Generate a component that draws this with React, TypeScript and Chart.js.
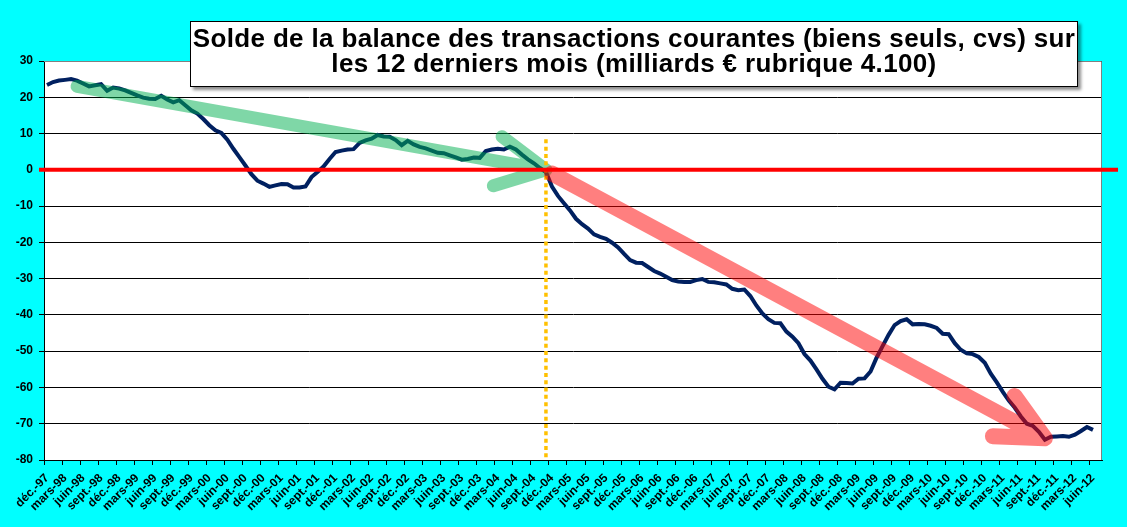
import React, { useEffect, useRef } from 'react';
import { Chart, registerables } from 'chart.js';

Chart.register(...registerables);

// ---- Data ----
const monthNames = ['janv.', 'févr.', 'mars', 'avr.', 'mai', 'juin', 'juil.', 'août', 'sept.', 'oct.', 'nov.', 'déc.'];
// monthly categories from déc.-97 to juil.-12 (last slot empty, like the original axis)
const categories: string[] = [];
for (let k = 0; k < 176; k++) {
  const m = (11 + k) % 12;
  const y = (97 + Math.floor((11 + k) / 12)) % 100;
  categories.push(`${monthNames[m]}-${String(y).padStart(2, '0')}`);
}

const balance = [
  23.4, 24.2, 24.6, 24.8, 25.0, 24.6, 23.8, 23.0, 23.3, 23.6, 21.8, 22.7,
  22.4, 21.9, 21.2, 20.5, 19.9, 19.6, 19.5, 20.4, 19.4, 18.6, 19.2, 17.8,
  16.4, 15.5, 14.0, 12.3, 10.9, 10.2, 8.3, 5.8, 3.5, 1.2, -1.2, -3.0,
  -3.8, -4.7, -4.3, -3.9, -4.0, -4.9, -4.9, -4.6, -2.0, -0.6, 0.9, 3.0,
  4.9, 5.3, 5.6, 5.7, 7.4, 8.1, 8.6, 9.6, 9.2, 9.1, 8.2, 6.8,
  8.0, 7.0, 6.3, 5.9, 5.3, 4.7, 4.6, 4.0, 3.4, 2.8, 3.0, 3.4,
  3.3, 5.2, 5.6, 5.8, 5.6, 6.4, 5.6, 4.2, 2.9, 1.8, 0.5, -0.6,
  -4.6, -7.2, -9.2, -11.2, -13.5, -15.0, -16.2, -17.8, -18.5, -19.0, -20.1, -21.4,
  -23.2, -24.9, -25.6, -25.7, -26.8, -27.9, -28.6, -29.5, -30.4, -30.8, -30.9, -30.9,
  -30.4, -30.1, -30.9, -31.0, -31.3, -31.6, -32.8, -33.2, -33.0, -34.8, -37.4, -39.6,
  -41.2, -42.2, -42.3, -44.6, -46.0, -47.8, -50.8, -52.6, -55.0, -57.6, -59.8, -60.5,
  -58.7, -58.8, -58.9, -57.6, -57.5, -55.6, -51.8, -48.6, -45.5, -42.8, -41.7, -41.2,
  -42.6, -42.5, -42.6, -43.0, -43.6, -45.2, -45.3, -47.8, -49.6, -50.6, -50.8, -51.6,
  -53.2, -56.2, -58.6, -61.2, -63.6, -65.6, -68.0, -70.0, -70.6, -72.2, -74.4, -73.6,
  -73.5, -73.4, -73.6, -73.0, -72.0, -70.9, -71.7,
];

const yMin = -80;
const yMax = 30;
const yStep = 10;

// annotations: [category index, value]
const greenArrowStart = [5, 23.0];
const greenArrowEnd = [83, 0];
const redArrowStart = [84, -1.0];
const redArrowEnd = [166, -74.0];
const zeroLineValue = 0;
const dottedLineIndex = 83;
const dottedLineRange = [8.4, -80];

const titleLines = [
  'Solde de la balance des transactions courantes (biens seuls, cvs) sur',
  'les 12 derniers mois (milliards € rubrique 4.100)',
];

function drawArrow(ctx: CanvasRenderingContext2D, x1: number, y1: number, x2: number, y2: number,
  width: number, color: string, headLen: number, headAngle: number) {
  const ang = Math.atan2(y2 - y1, x2 - x1);
  ctx.beginPath();
  ctx.moveTo(x1, y1);
  ctx.lineTo(x2, y2);
  ctx.moveTo(x2 - headLen * Math.cos(ang - headAngle), y2 - headLen * Math.sin(ang - headAngle));
  ctx.lineTo(x2, y2);
  ctx.lineTo(x2 - headLen * Math.cos(ang + headAngle), y2 - headLen * Math.sin(ang + headAngle));
  ctx.lineWidth = width;
  ctx.strokeStyle = color;
  ctx.lineCap = 'round';
  ctx.lineJoin = 'round';
  ctx.stroke();
}

const overlayPlugin = {
  id: 'overlay',
  beforeDraw(chart: any) {
    const { ctx, chartArea: a } = chart;
    ctx.save();
    ctx.fillStyle = '#ffffff';
    ctx.fillRect(a.left, a.top, a.right - a.left, a.bottom - a.top);
    ctx.restore();
  },
  beforeDatasetsDraw(chart: any) {
    const { ctx, chartArea: a } = chart;
    ctx.save();
    ctx.strokeStyle = '#808080';
    ctx.lineWidth = 1;
    ctx.beginPath();
    ctx.moveTo(a.left, a.top + 0.5);
    ctx.lineTo(a.right - 0.5, a.top + 0.5);
    ctx.lineTo(a.right - 0.5, a.bottom);
    ctx.stroke();
    ctx.restore();
  },
  afterDatasetsDraw(chart: any) {
    const { ctx, chartArea: a } = chart;
    const xs = chart.scales.x;
    const ys = chart.scales.y;
    ctx.save();
    // green arrow
    drawArrow(ctx,
      xs.getPixelForValue(greenArrowStart[0]), ys.getPixelForValue(greenArrowStart[1]),
      xs.getPixelForValue(greenArrowEnd[0]), ys.getPixelForValue(greenArrowEnd[1]),
      13, 'rgba(0,176,80,0.5)', 55, (27 * Math.PI) / 180);
    // dotted vertical
    ctx.beginPath();
    const dx = xs.getPixelForValue(dottedLineIndex);
    ctx.moveTo(dx, ys.getPixelForValue(dottedLineRange[0]));
    ctx.lineTo(dx, ys.getPixelForValue(dottedLineRange[1]));
    ctx.setLineDash([4, 3.3]);
    ctx.lineCap = 'butt';
    ctx.lineWidth = 3.5;
    ctx.strokeStyle = '#FFC000';
    ctx.stroke();
    ctx.setLineDash([]);
    // red zero line
    const zy = ys.getPixelForValue(zeroLineValue);
    ctx.beginPath();
    ctx.moveTo(a.left - 5, zy);
    ctx.lineTo(a.right + 16, zy);
    ctx.lineWidth = 4;
    ctx.strokeStyle = '#FF0000';
    ctx.lineCap = 'butt';
    ctx.stroke();
    // red arrow
    drawArrow(ctx,
      xs.getPixelForValue(redArrowStart[0]), ys.getPixelForValue(redArrowStart[1]),
      xs.getPixelForValue(redArrowEnd[0]), ys.getPixelForValue(redArrowEnd[1]),
      16, 'rgba(255,0,0,0.5)', 52, (26 * Math.PI) / 180);
    ctx.restore();
  },
};

export default function App() {
  const canvasRef = useRef<HTMLCanvasElement | null>(null);

  useEffect(() => {
    const canvas = canvasRef.current;
    if (!canvas) return;
    const font = '"Liberation Sans", Arial, sans-serif';
    const chart = new Chart(canvas, {
      type: 'line',
      data: {
        labels: categories,
        datasets: [
          {
            data: balance,
            borderColor: '#002060',
            borderWidth: 4,
            pointRadius: 0,
            tension: 0,
            fill: false,
          },
        ],
      },
      options: {
        responsive: false,
        animation: false,
        events: [],
        layout: { padding: { top: 61, right: 25, left: 0, bottom: 0 } },
        plugins: {
          legend: { display: false },
          tooltip: { enabled: false },
          title: { display: false },
        },
        scales: {
          x: {
            type: 'category',
            offset: true,
            grid: {
              offset: true,
              drawOnChartArea: false,
              drawTicks: true,
              tickLength: 5,
              color: (c: any) => (c.index % 3 === 0 ? '#000000' : 'rgba(0,0,0,0)'),
            },
            border: { display: true, color: '#000000', width: 1 },
            ticks: {
              autoSkip: false,
              maxRotation: 45,
              minRotation: 45,
              padding: 6,
              color: '#000000',
              font: { family: font, size: 12, weight: 'bold' },
              callback: (_v: any, i: number) => (i % 3 === 0 && i < 175 ? categories[i] : ''),
            },
            afterFit: (s: any) => { s.height = 67; },
          },
          y: {
            min: yMin,
            max: yMax,
            ticks: {
              stepSize: yStep,
              padding: 6,
              color: '#000000',
              font: { family: font, size: 12, weight: 'bold' },
            },
            grid: {
              color: '#000000',
              lineWidth: 1,
              drawTicks: true,
              tickLength: 5,
            },
            border: { display: true, color: '#000000', width: 1 },
            afterFit: (s: any) => { s.width = 44; },
          },
        },
      },
      plugins: [overlayPlugin],
    });
    return () => chart.destroy();
  }, []);

  return (
    <div style={{ position: 'fixed', left: 0, top: 0, width: 1127, height: 527, background: '#00FFFF', overflow: 'hidden' }}>
      <canvas ref={canvasRef} width={1127} height={527} style={{ position: 'absolute', left: 0, top: 0, width: 1127, height: 527 }} />
      <div
        style={{
          position: 'absolute',
          left: 190,
          top: 21,
          width: 888,
          height: 66,
          background: '#ffffff',
          border: '1px solid #000000',
          boxShadow: '3px 3px 3px rgba(0,0,0,0.45)',
          fontFamily: '"Liberation Sans", Arial, sans-serif',
          fontWeight: 'bold',
          fontSize: 26,
          letterSpacing: '0.35px',
          lineHeight: '25px',
          textAlign: 'center',
          color: '#000000',
          paddingTop: 4,
          boxSizing: 'border-box',
          whiteSpace: 'nowrap',
        }}
      >
        <div>{titleLines[0]}</div>
        <div>{titleLines[1]}</div>
      </div>
    </div>
  );
}
